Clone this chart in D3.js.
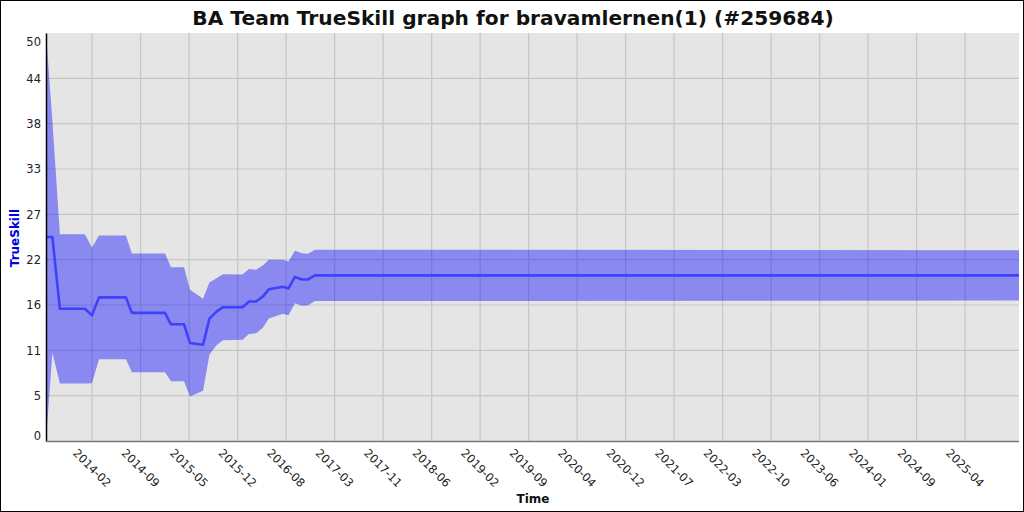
<!DOCTYPE html>
<html>
<head>
<meta charset="utf-8">
<script src="https://cdn.jsdelivr.net/npm/d3@7"></script>
<style>
  body { margin: 0; background: #fff; }
  svg { display: block; font-family: "DejaVu Sans", sans-serif; }
</style>
</head>
<body>
<script>
// data
var dates = ["2013-07-10", "2013-08-09", "2013-09-13", "2014-01-08", "2014-02-10", "2014-03-15",
  "2014-07-19", "2014-08-16", "2015-01-18", "2015-02-15", "2015-04-17", "2015-05-15",
  "2015-07-15", "2015-08-14", "2015-09-16", "2015-10-16", "2016-01-16", "2016-02-15",
  "2016-03-19", "2016-04-20", "2016-05-18", "2016-07-23", "2016-08-18", "2016-09-17",
  "2016-10-20", "2016-11-17", "2016-12-20", "2025-12-28"];
var mu = [25, 25, 16.2, 16.2, 15.4, 17.6,
  17.6, 15.7, 15.7, 14.3, 14.3, 12.0,
  11.8, 15.0, 15.85, 16.4, 16.4, 17.1,
  17.1, 17.7, 18.6, 18.9, 18.7, 20.1,
  19.8, 19.8, 20.3, 20.3];
var sigma = [8.333, 4.73, 3.05, 3.05, 2.77, 2.53,
  2.53, 2.43, 2.43, 2.33, 2.33, 2.18,
  1.88, 1.47, 1.37, 1.35, 1.33, 1.33,
  1.3, 1.27, 1.2, 1.1, 1.1, 1.07,
  1.07, 1.05, 1.05, 1.03];

var yTickValues = [0, 5.556, 11.111, 16.667, 22.222, 27.778, 33.333, 38.889, 44.444, 50];
var yTickLabels = ["0", "5", "11", "16", "22", "27", "33", "38", "44", "50"];

var xTickDates = ["2014-02-11", "2014-09-26", "2015-05-11", "2015-12-24", "2016-08-07",
  "2017-03-22", "2017-11-04", "2018-06-19", "2019-02-01", "2019-09-16", "2020-04-30",
  "2020-12-13", "2021-07-28", "2022-03-12", "2022-10-25", "2023-06-09", "2024-01-22",
  "2024-09-05", "2025-04-20"];
var xTickLabels = ["2014-02", "2014-09", "2015-05", "2015-12", "2016-08", "2017-03", "2017-11",
  "2018-06", "2019-02", "2019-09", "2020-04", "2020-12", "2021-07", "2022-03", "2022-10",
  "2023-06", "2024-01", "2024-09", "2025-04"];

(function() {
  var w = 1024, h = 512;
  var pLeft = 46, pRight = 1019, pTop = 33, pBottom = 441;

  var parse = d3.timeParse("%Y-%m-%d");
  var points = dates.map(function(d, i) {
    return { date: parse(d), mu: mu[i], lo: mu[i] - 3 * sigma[i], hi: mu[i] + 3 * sigma[i] };
  });
  var ticks = xTickDates.map(parse);

  var svg = d3.select("body").append("svg")
    .attr("width", w)
    .attr("height", h);

  // outer frame
  svg.append("rect")
    .attr("x", 0.5).attr("y", 0.5)
    .attr("width", w - 1).attr("height", h - 1)
    .attr("fill", "#fff")
    .attr("stroke", "#000");

  var xScale = d3.scaleTime()
    .domain([points[0].date, points[points.length - 1].date])
    .range([pLeft, pRight]);

  var yScale = d3.scaleLinear()
    .domain([0, 50])
    .range([pBottom, pTop]);

  // plot background
  svg.append("rect")
    .attr("x", pLeft).attr("y", pTop)
    .attr("width", pRight - pLeft).attr("height", pBottom - pTop)
    .attr("fill", "#e5e5e5");

  // grid
  svg.append("g")
    .selectAll("line")
    .data(ticks)
    .enter().append("line")
    .attr("x1", function(d) { return xScale(d); })
    .attr("x2", function(d) { return xScale(d); })
    .attr("y1", pTop).attr("y2", pBottom)
    .attr("stroke", "#c6c6c6")
    .attr("stroke-width", 1.2);

  svg.append("g")
    .selectAll("line")
    .data(yTickValues.slice(1, -1))
    .enter().append("line")
    .attr("x1", pLeft).attr("x2", pRight)
    .attr("y1", function(d) { return yScale(d); })
    .attr("y2", function(d) { return yScale(d); })
    .attr("stroke", "#c6c6c6")
    .attr("stroke-width", 1.2);

  // band
  var area = d3.area()
    .x(function(d) { return xScale(d.date); })
    .y0(function(d) { return yScale(Math.max(0, d.lo)); })
    .y1(function(d) { return yScale(Math.min(50, d.hi)); });

  svg.append("path")
    .datum(points)
    .attr("d", area)
    .attr("fill", "rgba(5,5,255,0.41)");

  // mean line
  var line = d3.line()
    .x(function(d) { return xScale(d.date); })
    .y(function(d) { return yScale(d.mu); });

  svg.append("path")
    .datum(points)
    .attr("d", line)
    .attr("fill", "none")
    .attr("stroke", "#4040ff")
    .attr("stroke-width", 2.6)
    .attr("stroke-linejoin", "round");

  // axes
  var yAxis = d3.axisLeft(yScale)
    .tickValues(yTickValues)
    .tickSize(0)
    .tickPadding(5)
    .tickFormat(function(d, i) { return yTickLabels[i]; });

  var gy = svg.append("g")
    .attr("transform", "translate(" + pLeft + ",0)")
    .call(yAxis);
  gy.select(".domain").attr("stroke", "#000").attr("stroke-width", 1.5);
  gy.selectAll("text")
    .attr("font-size", 11.5)
    .attr("font-family", "DejaVu Sans, sans-serif")
    .attr("fill", "#222")
    .attr("dy", function(d, i) {
      if (i === 0) return "-0.1em";
      if (i === yTickValues.length - 1) return "1.1em";
      return "0.32em";
    });

  svg.append("line")
    .attr("x1", pLeft).attr("x2", pRight)
    .attr("y1", pBottom + 0.5).attr("y2", pBottom + 0.5)
    .attr("stroke", "#777")
    .attr("stroke-width", 1.5);

  svg.append("g")
    .selectAll("text")
    .data(ticks)
    .enter().append("text")
    .attr("transform", function(d) { return "translate(" + xScale(d) + "," + (pBottom + 27) + ") rotate(45)"; })
    .attr("text-anchor", "middle")
    .attr("dy", "0.35em")
    .attr("font-size", 11.5)
    .attr("fill", "#222")
    .text(function(d, i) { return xTickLabels[i]; });

  // titles
  svg.append("text")
    .attr("x", 513).attr("y", 25)
    .attr("text-anchor", "middle")
    .attr("font-size", 20.2)
    .attr("font-weight", "bold")
    .attr("fill", "#111")
    .text("BA Team TrueSkill graph for bravamlernen(1) (#259684)");

  svg.append("text")
    .attr("x", 533).attr("y", 503)
    .attr("text-anchor", "middle")
    .attr("font-size", 12)
    .attr("font-weight", "bold")
    .attr("fill", "#111")
    .text("Time");

  svg.append("text")
    .attr("transform", "translate(19,238) rotate(-90)")
    .attr("text-anchor", "middle")
    .attr("font-size", 12)
    .attr("font-weight", "bold")
    .attr("fill", "#0000e0")
    .text("TrueSkill");
})();
</script>
</body>
</html>
